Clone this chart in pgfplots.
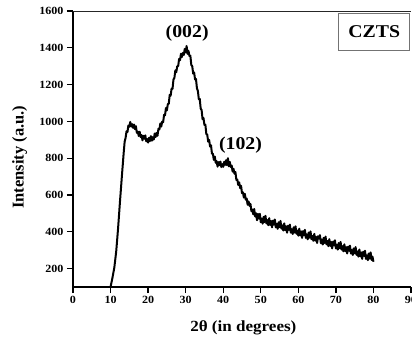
\documentclass[border=0pt]{standalone}
\usepackage{pgfplots}
\pgfplotsset{compat=1.18}
\usepackage{fontspec}
\setmainfont{Liberation Serif}[FakeStretch=1.1]
\newfontfamily\ylabfont{Liberation Serif}
\pgfplotstableread{
x y
10 100
10.5 150
11 205
11.5 292
12 418
12.5 562
13 698
13.5 830
13.75 889
14 910
14.25 946
14.5 942
14.75 978
15 971
15.25 997
15.5 972
15.75 985
16 965
16.25 983
16.5 958
16.75 974
17 938
17.25 945
17.5 921
17.75 944
18 915
18.25 926
18.5 897
18.75 922
19 906
19.25 924
19.5 892
19.75 904
20 885
20.25 911
20.5 893
20.75 920
21 895
21.25 914
21.5 901
21.75 934
22 915
22.25 938
22.5 922
22.75 960
23 956
23.25 989
23.5 972
23.75 999
24 995
24.25 1036
24.5 1033
24.75 1073
25 1060
25.25 1094
25.5 1096
25.75 1144
26 1140
26.25 1178
26.5 1177
26.75 1228
27 1236
27.25 1277
27.5 1267
27.75 1300
28 1300
28.25 1339
28.5 1333
28.75 1368
29 1350
29.25 1372
29.5 1361
29.75 1394
30 1375
30.25 1410
30.5 1367
30.75 1383
31 1356
31.25 1357
31.5 1307
31.75 1300
32 1260
32.25 1266
32.5 1228
32.75 1230
33 1180
33.25 1166
33.5 1121
33.75 1122
34 1070
34.25 1061
34.5 1012
34.75 1018
35 981
35.25 982
35.5 932
35.75 927
36 890
36.25 899
36.5 863
36.75 870
37 825
37.25 824
37.5 791
37.75 809
38 775
38.25 784
38.5 754
38.75 779
39 762
39.25 782
39.5 752
39.75 768
40 753
40.25 780
40.5 763
40.75 789
41 762
41.25 800
41.5 756
41.75 780
42 752
42.25 760
42.5 727
42.75 742
43 716
43.25 725
43.5 682
43.75 684
44 655
44.25 669
44.5 638
44.75 650
45 610
45.25 614
45.5 586
45.75 606
46 575
46.25 581
46.5 547
46.75 565
47 541
47.25 552
47.5 512
47.75 520
48 495
48.25 524
48.5 483
48.75 501
49 463
49.25 497
49.5 472
49.75 498
50 452
50.25 471
50.5 444
50.75 481
51 453
51.25 487
51.5 445
51.75 464
52 436
52.25 474
52.5 437
52.75 459
53 424
53.25 461
53.5 439
53.75 467
54 424
54.25 443
54.5 416
54.75 452
55 425
55.25 459
55.5 417
55.75 435
56 407
56.25 446
56.5 409
56.75 430
57 395
57.25 433
57.5 411
57.75 439
58 395
58.25 414
58.5 388
58.75 424
59 396
59.25 430
59.5 389
59.75 407
60 379
60.25 417
60.5 380
60.75 402
61 367
61.25 404
61.5 382
61.75 411
62 367
62.25 386
62.5 359
62.75 396
63 368
63.25 402
63.5 360
63.75 378
64 351
64.25 389
64.5 352
64.75 373
65 339
65.25 376
65.5 364
65.75 382
66 338
66.25 358
66.5 331
66.75 367
67 339
67.25 374
67.5 332
67.75 350
68 322
68.25 360
68.5 324
68.75 345
69 310
69.25 347
69.5 326
69.75 354
70 310
70.25 329
70.5 303
70.75 339
71 311
71.25 345
71.5 303
71.75 322
72 294
72.25 332
72.5 295
72.75 317
73 282
73.25 319
73.5 297
73.75 325
74 282
74.25 301
74.5 274
74.75 310
75 283
75.25 317
75.5 275
75.75 293
76 265
76.25 304
76.5 267
76.75 288
77 253
77.25 291
77.5 269
77.75 297
78 253
78.25 272
78.5 246
78.75 282
79 254
79.25 288
79.5 247
79.75 265
80 237
}\xrd
\begin{document}
\begin{tikzpicture}
\begin{axis}[name=ax,
 scale only axis, width=338pt, height=276pt,
 xmin=0, xmax=90, ymin=100, ymax=1600,
 xtick={0,10,...,90}, ytick={200,400,...,1600},
 axis x line*=bottom, axis y line*=left,
 axis line style={line width=1.3pt, -},
 tick style={line width=1.3pt, black},
 major tick length=6pt,
 tick align=outside,
 /pgf/number format/assume math mode=true,
 /pgf/number format/set thousands separator={},
 ticklabel style={font=\fontsize{11}{13}\selectfont\bfseries},
 xlabel={2θ (in degrees)},
 xlabel style={font=\fontsize{15.5}{18}\selectfont\bfseries, at={(axis description cs:0.504,0)}, anchor=center, yshift=-41pt},
 ylabel={Intensity (a.u.)},
 ylabel style={font=\ylabfont\fontsize{16.5}{18}\selectfont\bfseries, at={(axis description cs:-0.158,0.47)}, anchor=center},
]
\addplot[black, line width=2pt, line join=round] table[x=x, y=y] {\xrd};
\draw[line width=1.3pt, black!85] (rel axis cs:0,1) -- (rel axis cs:1,1);
\draw[line width=0.5pt, black!35] (rel axis cs:1,0) -- (rel axis cs:1,1);
\node[font=\fontsize{18}{20}\selectfont\bfseries] at (axis cs:30.4,1480) {(002)};
\node[font=\fontsize{18}{20}\selectfont\bfseries] at (axis cs:44.6,872) {(102)};
\node[draw=black!55, line width=0.6pt, fill=white, font=\fontsize{18}{20}\selectfont\bfseries, minimum width=71pt, minimum height=37pt, inner sep=0pt, anchor=north east] at (rel axis cs:0.997,0.993) {CZTS};
\end{axis}
\pgfresetboundingbox
\path[use as bounding box] ([xshift=-73pt,yshift=-51pt]ax.south west) rectangle ([xshift=1pt,yshift=11pt]ax.north east);
\end{tikzpicture}
\end{document}
